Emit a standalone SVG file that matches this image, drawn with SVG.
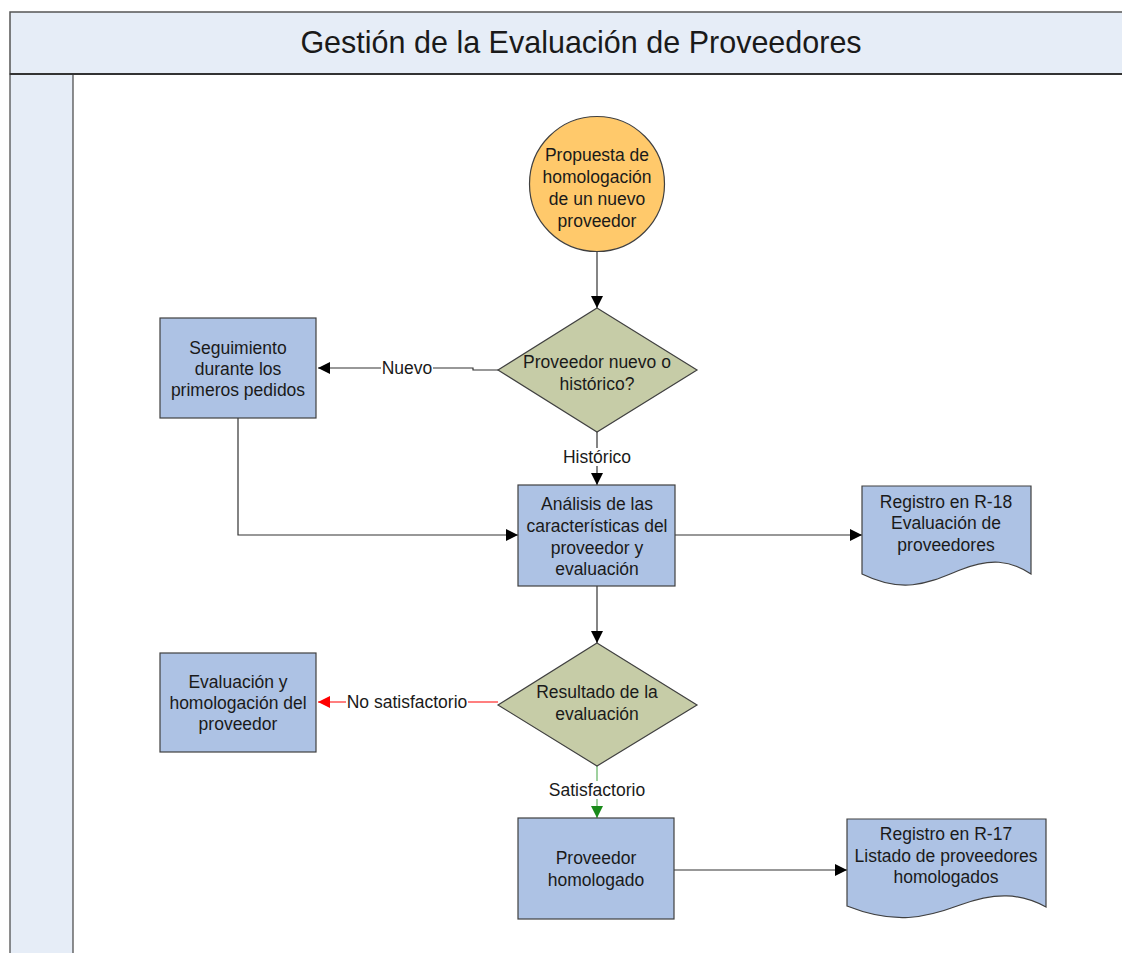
<svg xmlns="http://www.w3.org/2000/svg" width="1122" height="953" viewBox="0 0 1122 953">
<style>
text{font-family:"Liberation Sans",Arial,sans-serif;fill:#1a1a1a;text-anchor:middle}
.t{font-size:17.5px}
.lbl{font-size:17.5px}
.box{fill:#ADC2E4;stroke:#404040;stroke-width:1.2}
.dia{fill:#C6CCA7;stroke:#404040;stroke-width:1.2}
.ln{fill:none;stroke:#333;stroke-width:1.2}
</style>
<defs>
<marker id="ah" viewBox="0 0 10 10" refX="10" refY="5" markerWidth="12" markerHeight="12" markerUnits="userSpaceOnUse" orient="auto"><path d="M0,0L10,5L0,10z" fill="#000"/></marker>
<marker id="ahr" viewBox="0 0 10 10" refX="10" refY="5" markerWidth="12" markerHeight="12" markerUnits="userSpaceOnUse" orient="auto"><path d="M0,0L10,5L0,10z" fill="#FF0000"/></marker>
<marker id="ahg" viewBox="0 0 10 10" refX="10" refY="5" markerWidth="12" markerHeight="12" markerUnits="userSpaceOnUse" orient="auto"><path d="M0,0L10,5L0,10z" fill="#1A8A1A"/></marker>
</defs>
<rect width="1122" height="953" fill="#fff"/>
<g id="frame">
<rect x="10" y="12" width="1120" height="62" fill="#E6EDF7" stroke="#555" stroke-width="1.5"/>
<rect x="10" y="74" width="63" height="890" fill="#E6EDF7" stroke="#444" stroke-width="1.2"/>
<line x1="10" y1="74" x2="1122" y2="74" stroke="#333" stroke-width="2.2"/>
<text x="581" y="53" style="font-size:30.5px">Gestión de la Evaluación de Proveedores</text>
</g>
<g id="connectors">
<line class="ln" x1="597" y1="252" x2="597" y2="308" marker-end="url(#ah)"/>
<polyline class="ln" points="498,370 473,370 473,368 318,368" marker-end="url(#ah)"/>
<line class="ln" x1="597" y1="432" x2="597" y2="485" marker-end="url(#ah)"/>
<polyline class="ln" points="238,418 238,535 518,535" marker-end="url(#ah)"/>
<line class="ln" x1="675" y1="535" x2="862" y2="535" marker-end="url(#ah)"/>
<line class="ln" x1="597" y1="586" x2="597" y2="643" marker-end="url(#ah)"/>
<line x1="498" y1="702" x2="318" y2="702" stroke="#FF0000" stroke-width="1.2" marker-end="url(#ahr)"/>
<line x1="597" y1="766" x2="597" y2="818" stroke="#5FB35F" stroke-width="1.2" marker-end="url(#ahg)"/>
<line class="ln" x1="674" y1="870" x2="847" y2="870" marker-end="url(#ah)"/>
<rect x="381" y="359" width="52" height="18" fill="#fff"/>
<text class="lbl" x="407" y="374">Nuevo</text>
<rect x="562" y="448" width="70" height="18" fill="#fff"/>
<text class="lbl" x="597" y="463">Histórico</text>
<rect x="346" y="693" width="122" height="18" fill="#fff"/>
<text class="lbl" x="407" y="708">No satisfactorio</text>
<rect x="548" y="781" width="98" height="18" fill="#fff"/>
<text class="lbl" x="597" y="796">Satisfactorio</text>
</g>
<g id="start">
<circle cx="597" cy="184" r="67.5" fill="#FFC96B" stroke="#404040" stroke-width="1.2"/>
<text class="t" x="597" y="161">Propuesta de</text>
<text class="t" x="597" y="183">homologación</text>
<text class="t" x="597" y="205">de un nuevo</text>
<text class="t" x="597" y="227">proveedor</text>
</g>
<g id="decision1">
<polygon class="dia" points="597,308 697,370 597,432 498,370"/>
<text class="t" x="597" y="368">Proveedor nuevo o</text>
<text class="t" x="597" y="390">histórico?</text>
</g>
<g id="seguimiento">
<rect class="box" x="160" y="318" width="156" height="100"/>
<text class="t" x="238" y="354">Seguimiento</text>
<text class="t" x="238" y="375">durante los</text>
<text class="t" x="238" y="396">primeros pedidos</text>
</g>
<g id="analisis">
<rect class="box" x="518" y="485" width="157" height="101"/>
<text class="t" x="597" y="510">Análisis de las</text>
<text class="t" x="597" y="532">características del</text>
<text class="t" x="597" y="554">proveedor y</text>
<text class="t" x="597" y="575">evaluación</text>
</g>
<g id="r18">
<path class="box" d="M862,486 H1031 V574 C1010,560 990,558 960,570 C930,582 905,595 862,574 Z"/>
<text class="t" x="946" y="508">Registro en R-18</text>
<text class="t" x="946" y="529">Evaluación de</text>
<text class="t" x="946" y="551">proveedores</text>
</g>
<g id="decision2">
<polygon class="dia" points="597,643 697,705 597,766 498,705"/>
<text class="t" x="597" y="698">Resultado de la</text>
<text class="t" x="597" y="720">evaluación</text>
</g>
<g id="evaluacion">
<rect class="box" x="160" y="653" width="156" height="99"/>
<text class="t" x="238" y="688">Evaluación y</text>
<text class="t" x="238" y="709">homologación del</text>
<text class="t" x="238" y="730">proveedor</text>
</g>
<g id="homologado">
<rect class="box" x="518" y="818" width="156" height="101"/>
<text class="t" x="596" y="864">Proveedor</text>
<text class="t" x="596" y="886">homologado</text>
</g>
<g id="r17">
<path class="box" d="M847,819 H1046 V907 C1020,893 995,892 960,905 C925,918 895,925 847,906 Z"/>
<text class="t" x="946" y="840">Registro en R-17</text>
<text class="t" x="946" y="862">Listado de proveedores</text>
<text class="t" x="946" y="883">homologados</text>
</g>
</svg>
